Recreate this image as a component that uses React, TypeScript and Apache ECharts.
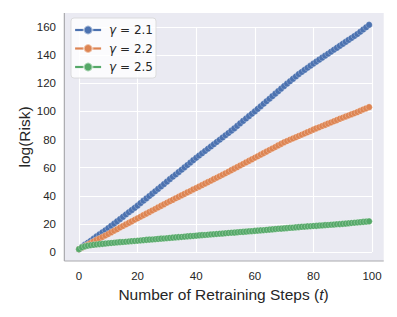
import React, { useEffect, useRef } from "react";
import * as echarts from "echarts";

const steps: number[] = Array.from({ length: 100 }, (_, i) => i);

const seriesNames = ["γ = 2.1", "γ = 2.2", "γ = 2.5"];
const colors = ["#4C72B0", "#DD8452", "#55A868"];
const yTitle = "log(Risk)";
const xTitle = "Number of Retraining Steps ({i|t})";

const risk21 = [
  2.0, 3.7, 5.2, 6.6, 8.0, 9.5, 11.1, 12.6, 14.0, 15.5,
  17.0, 18.7, 20.2, 21.8, 23.4, 25.0, 26.7, 28.3, 29.8, 31.4,
  33.0, 34.8, 36.5, 38.1, 39.8, 41.5, 43.2, 44.9, 46.6, 48.3,
  50.0, 51.8, 53.5, 55.1, 56.8, 58.5, 60.2, 61.9, 63.6, 65.3,
  67.0, 68.6, 70.2, 71.8, 73.4, 75.0, 76.6, 78.2, 79.8, 81.4,
  83.0, 84.6, 86.3, 87.9, 89.7, 91.5, 93.2, 94.9, 96.6, 98.3,
  100.0, 101.8, 103.6, 105.4, 107.2, 109.0, 110.8, 112.6, 114.4, 116.2,
  118.0, 119.7, 121.4, 123.1, 124.8, 126.5, 128.0, 129.5, 131.0, 132.5,
  134.0, 135.4, 136.8, 138.2, 139.6, 141.0, 142.4, 143.8, 145.2, 146.6,
  148.0, 149.4, 150.8, 152.2, 153.6, 155.0, 156.6, 158.2, 159.8, 161.5,
];

const risk22 = [
  2.0, 3.1, 4.2, 5.3, 6.4, 7.5, 8.6, 9.6, 10.7, 11.7,
  12.8, 14.0, 15.1, 16.2, 17.4, 18.5, 19.6, 20.7, 21.8, 22.9,
  24.0, 25.1, 26.2, 27.3, 28.4, 29.5, 30.6, 31.7, 32.8, 33.9,
  35.0, 36.1, 37.1, 38.2, 39.2, 40.3, 41.3, 42.4, 43.4, 44.5,
  45.5, 46.5, 47.6, 48.6, 49.7, 50.7, 51.8, 52.8, 53.9, 54.9,
  56.0, 57.1, 58.2, 59.3, 60.4, 61.5, 62.6, 63.7, 64.8, 65.9,
  67.0, 68.1, 69.2, 70.3, 71.4, 72.5, 73.6, 74.7, 75.8, 76.9,
  78.0, 78.9, 79.8, 80.7, 81.6, 82.5, 83.4, 84.3, 85.2, 86.1,
  87.0, 87.9, 88.7, 89.6, 90.4, 91.3, 92.1, 93.0, 93.8, 94.7,
  95.5, 96.3, 97.1, 97.9, 98.7, 99.5, 100.4, 101.3, 102.1, 103.0,
];

const risk25 = [
  2.0, 3.3, 4.0, 4.5, 4.8, 5.1, 5.3, 5.6, 5.8, 6.0,
  6.2, 6.4, 6.6, 6.8, 7.0, 7.1, 7.3, 7.5, 7.7, 7.8,
  8.0, 8.2, 8.4, 8.6, 8.8, 8.9, 9.1, 9.3, 9.5, 9.6,
  9.8, 10.0, 10.2, 10.4, 10.6, 10.7, 10.9, 11.1, 11.3, 11.4,
  11.6, 11.8, 12.0, 12.1, 12.3, 12.5, 12.6, 12.8, 13.0, 13.1,
  13.3, 13.5, 13.7, 13.8, 14.0, 14.2, 14.3, 14.5, 14.7, 14.8,
  15.0, 15.2, 15.4, 15.5, 15.7, 15.9, 16.1, 16.3, 16.5, 16.6,
  16.8, 17.0, 17.2, 17.3, 17.5, 17.7, 17.9, 18.0, 18.2, 18.3,
  18.5, 18.6, 18.8, 18.9, 19.1, 19.2, 19.4, 19.5, 19.7, 19.8,
  20.0, 20.2, 20.4, 20.6, 20.8, 21.0, 21.2, 21.4, 21.6, 21.8,
];

const seriesValues = [risk21, risk22, risk25];

const xTicks = { min: 0, max: 100, interval: 20 };
const yTicks = { min: 0, max: 160, interval: 20 };

export default function App() {
  const ref = useRef<HTMLDivElement>(null);

  useEffect(() => {
    if (!ref.current) return;
    const chart = echarts.init(ref.current, undefined, { renderer: "svg" });

    // layout (pixels)
    const W = 397, H = 317;
    const gL = 79, gR = 372, gT = 27, gB = 252;
    const pxX = (gR - gL) / (xTicks.max - xTicks.min);
    const pxY = (gB - gT) / (yTicks.max - yTicks.min);
    const bgL = gL - 5 * pxX;
    const bgR = gL + 104 * pxX;
    const bgT = gT - 10 * pxY;
    const bgB = gB + 6.4 * pxY;
    const tickColor = "#262626";
    const font = "'Liberation Sans', Arial, sans-serif";

    chart.setOption({
      animation: false,
      backgroundColor: "#ffffff",
      grid: { left: gL, right: W - gR, top: gT, bottom: H - gB, containLabel: false },
      graphic: [
        {
          type: "rect",
          z: -100,
          shape: { x: bgL, y: bgT, width: bgR - bgL, height: bgB - bgT },
          style: { fill: "#EAEAF2" },
          silent: true,
        },
        {
          type: "line",
          z: 100,
          shape: { x1: bgL, y1: bgT, x2: bgL, y2: bgB },
          style: { stroke: "#a9a9ad", lineWidth: 1.2 },
          silent: true,
        },
        {
          type: "line",
          z: 100,
          shape: { x1: bgL, y1: bgB, x2: bgR, y2: bgB },
          style: { stroke: "#a9a9ad", lineWidth: 1.2 },
          silent: true,
        },
        {
          type: "text",
          x: 24,
          y: (bgT + bgB) / 2,
          rotation: Math.PI / 2,
          style: {
            text: yTitle,
            fill: tickColor,
            fontSize: 15.5,
            fontFamily: font,
            align: "center",
            verticalAlign: "middle",
          },
          silent: true,
        },
      ],
      legend: {
        left: 71,
        top: 18,
        orient: "vertical",
        data: seriesNames,
        backgroundColor: "rgba(255,255,255,0.8)",
        borderColor: "#d6d6d6",
        borderWidth: 0.8,
        borderRadius: 3,
        padding: [5, 3, 4, 3],
        itemWidth: 26,
        itemHeight: 11,
        itemGap: 4.5,
        lineStyle: { width: 2.2 },
        textStyle: {
          fontFamily: "'DejaVu Sans', sans-serif",
          fontSize: 12,
          lineHeight: 14,
          color: tickColor,
          padding: [0, 0, 0, 3],
          rich: {
            i: { fontStyle: "italic", fontFamily: "'DejaVu Sans', sans-serif", fontSize: 12, color: tickColor },
          },
        },
        formatter: (name: string) => name.replace("γ", "{i|γ}"),
      },
      xAxis: {
        type: "value",
        min: xTicks.min,
        max: xTicks.max,
        interval: xTicks.interval,
        axisLine: { show: false },
        axisTick: { show: false },
        splitLine: { show: true, lineStyle: { color: "#ffffff", width: 1.1 } },
        axisLabel: { color: tickColor, fontSize: 11.5, fontFamily: font, margin: 18 },
        name: xTitle,
        nameLocation: "middle",
        nameGap: 28,
        nameTextStyle: {
          color: tickColor,
          fontSize: 15.5,
          fontFamily: font,
          padding: [0, 4, 0, 0],
          rich: { i: { fontStyle: "italic", fontSize: 15.5, fontFamily: font, color: tickColor } },
        },
      },
      yAxis: {
        type: "value",
        min: yTicks.min,
        max: yTicks.max,
        interval: yTicks.interval,
        axisLine: { show: false },
        axisTick: { show: false },
        splitLine: { show: true, lineStyle: { color: "#ffffff", width: 1.1 } },
        axisLabel: { color: tickColor, fontSize: 11.5, fontFamily: font, margin: 23 },
      },
      series: seriesNames.map((name, k) => ({
        name,
        type: "line",
        data: steps.map((t, i) => [t, seriesValues[k][i]]),
        clip: false,
        showSymbol: true,
        showAllSymbol: true,
        symbol: "circle",
        symbolSize: 6.5,
        color: colors[k],
        lineStyle: { width: 1.5, color: colors[k] },
        itemStyle: { color: colors[k], borderColor: "rgba(255,255,255,0.5)", borderWidth: 0.5 },
        emphasis: { disabled: true },
      })),
    });

    return () => chart.dispose();
  }, []);

  return (
    <div
      ref={ref}
      style={{ position: "fixed", left: 0, top: 0, width: 397, height: 317 }}
    />
  );
}
